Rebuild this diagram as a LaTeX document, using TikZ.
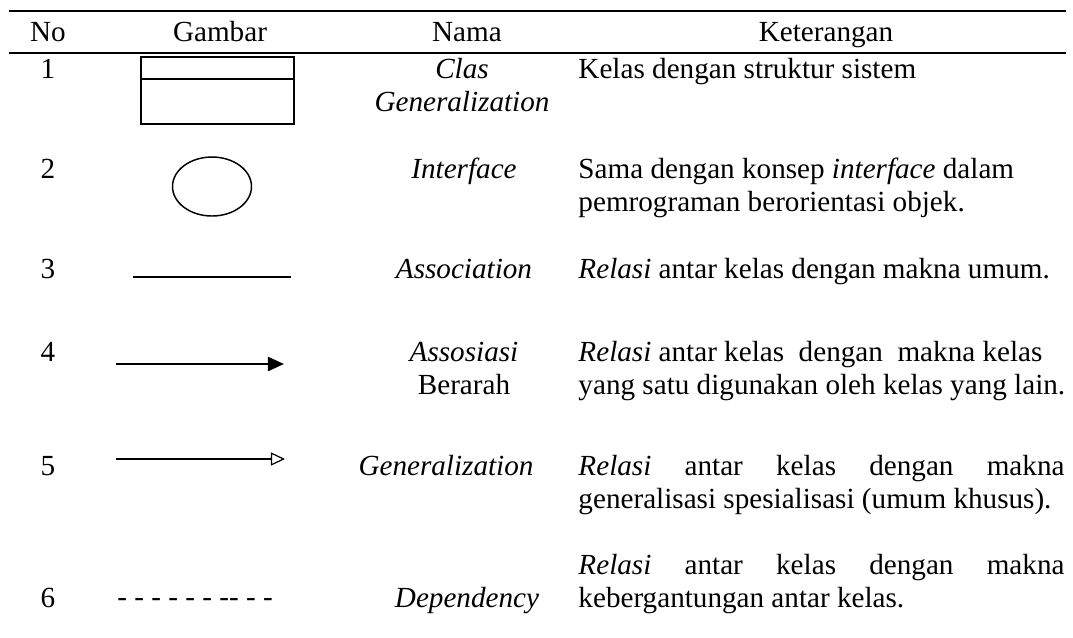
\documentclass[tikz,border=0pt]{standalone}
\usepackage{fontspec}
\setmainfont{Liberation Serif}
\usetikzlibrary{arrows.meta}
\begin{document}
\begin{tikzpicture}[x=0.4115pt,y=-0.4115pt,
  every node/.style={inner sep=0pt,font=\fontsize{12pt}{14pt}\selectfont},
  hd/.style={anchor=base},
  num/.style={anchor=base},
  nm/.style={anchor=base,font=\fontsize{12pt}{14pt}\selectfont\itshape},
  nmup/.style={anchor=base},
  ds/.style={anchor=base west},
  rulel/.style={line width=0.75pt},
  shp/.style={line width=0.6pt},
  assoc/.style={line width=0.55pt},
  dirarrow/.style={line width=0.85pt,-{Triangle[length=6.6pt,width=5.8pt]}},
  genarrow/.style={line width=0.5pt,-{Triangle[open,length=5.8pt,width=5.4pt,line width=0.5pt]}}
]
\useasboundingbox (0,0) rectangle (1073,637);
% rules
\coordinate (r1l) at (9,11);   \coordinate (r1r) at (1066,11);
\coordinate (r2l) at (9,53);   \coordinate (r2r) at (1066,53);
\draw[rulel] (r1l) -- (r1r);
\draw[rulel] (r2l) -- (r2r);
% header
\node[hd] (hno) at (48,41) {No};
\node[hd] (hgb) at (220,41) {Gambar};
\node[hd] (hnm) at (467,41) {Nama};
\node[hd] (hkt) at (826,41) {Keterangan};
% numbers
\node[num] (n1) at (48,78) {1};
\node[num] (n2) at (48,178) {2};
\node[num] (n3) at (48,278) {3};
\node[num] (n4) at (48,361) {4};
\node[num] (n5) at (48,475) {5};
\node[num] (n6) at (48,607) {6};
% shapes
\coordinate (c1a) at (141,57); \coordinate (c1b) at (294,124);
\coordinate (c1l) at (141,79); \coordinate (c1r) at (294,79);
\draw[shp] (c1a) rectangle (c1b);
\draw[shp] (c1l) -- (c1r);
\coordinate (ifc) at (212,186.5);
\draw[shp] (ifc) ellipse [x radius=39.5, y radius=29.5];
\coordinate (a3s) at (133,277); \coordinate (a3e) at (291,277);
\draw[assoc] (a3s) -- (a3e);
\coordinate (a4s) at (116,364); \coordinate (a4e) at (284,364);
\draw[dirarrow] (a4s) -- (a4e);
\coordinate (a5s) at (116,459); \coordinate (a5e) at (285,459);
\draw[genarrow] (a5s) -- (a5e);
\node[ds] (dep) at (117,606) {- - - - - - -{}- - -};
% names
\node[nm] (m1a) at (462,78) {Clas};
\node[nm] (m1b) at (462,111) {Generalization};
\node[nm] (m2) at (464,178) {Interface};
\node[nm] (m3) at (464,278) {Association};
\node[nm] (m4a) at (464,361) {Assosiasi};
\node[nmup] (m4b) at (464,394) {Berarah};
\node[nm] (m5) at (446,475) {Generalization};
\node[nm] (m6) at (467,607) {Dependency};
% descriptions
\node[ds] (k1) at (578,78) {Kelas dengan struktur sistem};
\node[ds] (k2a) at (578,178) {Sama dengan konsep \textit{interface} dalam};
\node[ds] (k2b) at (578,211) {pemrograman berorientasi objek.};
\node[ds] (k3) at (578,278) {\textit{Relasi} antar kelas dengan makna umum.};
\node[ds] (k4a) at (578,361) {\textit{Relasi} antar kelas\ \ dengan\ \ makna kelas};
\node[ds] (k4b) at (578,394) {yang satu digunakan oleh kelas yang lain.};
\node[ds] (k5a) at (578,475) {\makebox[200pt][s]{\textit{Relasi} antar kelas dengan makna}};
\node[ds] (k5b) at (578,508) {generalisasi spesialisasi (umum khusus).};
\node[ds] (k6a) at (578,574) {\makebox[200pt][s]{\textit{Relasi} antar kelas dengan makna}};
\node[ds] (k6b) at (578,607) {kebergantungan antar kelas.};
\end{tikzpicture}
\end{document}
